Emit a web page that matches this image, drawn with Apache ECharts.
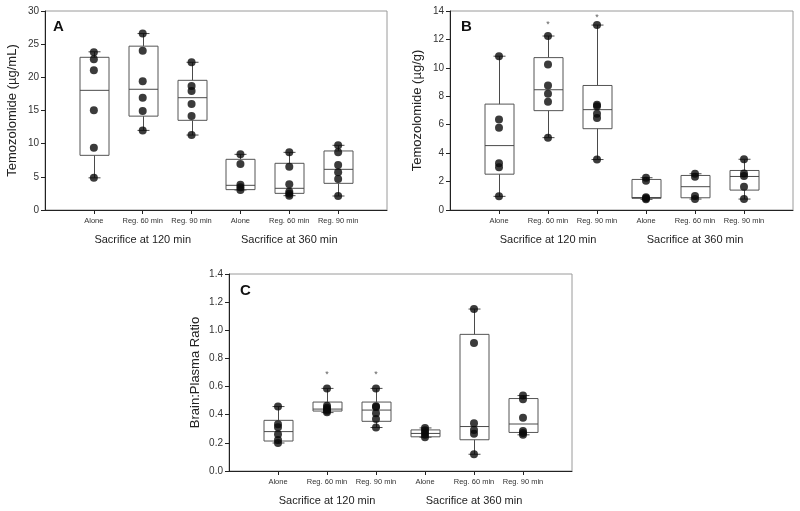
<!DOCTYPE html>
<html>
<head>
<meta charset="utf-8">
<script src="https://cdn.jsdelivr.net/npm/echarts@6/dist/echarts.min.js"></script>
<style>html,body{margin:0;padding:0;background:#fff}#chart{width:800px;height:511px}</style>
</head>
<body>
<div id="chart"></div>
<script>
// ---- data ----
const categories = ['Alone', 'Reg. 60 min', 'Reg. 90 min', 'Alone', 'Reg. 60 min', 'Reg. 90 min'];
const groupLabels = ['Sacrifice at 120 min', 'Sacrifice at 360 min'];
const groupCenterCategory = [2, 5];
const panelLetters = ['A', 'B', 'C'];
const yTitles = ['Temozolomide (\u00b5g/mL)', 'Temozolomide (\u00b5g/g)', 'Brain:Plasma Ratio'];

// box stats: [min, Q1, median, Q3, max]
const plasmaBox = [
  [4.85, 8.24, 18.04, 23.02, 23.85],
  [12.0, 14.15, 18.2, 24.7, 26.6],
  [11.3, 13.52, 16.93, 19.55, 22.27],
  [3.02, 3.07, 3.72, 7.64, 8.39],
  [2.16, 2.51, 3.27, 7.04, 8.69],
  [2.11, 4.02, 6.13, 8.9, 9.75]
];
const plasmaPoints = [
  [23.8, 22.72, 21.06, 15.03, 9.4, 4.85],
  [26.6, 24.02, 19.4, 16.93, 14.93, 12.0],
  [22.27, 18.69, 17.94, 15.98, 14.17, 11.3],
  [8.39, 6.93, 3.8, 3.42, 3.02],
  [8.69, 6.53, 3.87, 2.76, 2.45, 2.16],
  [9.75, 8.69, 6.78, 5.68, 4.67, 2.11]
];
const brainBox = [
  [0.96, 2.52, 4.53, 7.45, 10.82],
  [5.09, 6.99, 8.46, 10.72, 12.24],
  [3.55, 5.72, 7.06, 8.76, 13.01],
  [0.75, 0.82, 0.88, 2.15, 2.27],
  [0.77, 0.86, 1.64, 2.43, 2.55],
  [0.77, 1.40, 2.36, 2.78, 3.57]
];
const brainPoints = [
  [10.82, 6.36, 5.79, 3.29, 3.0, 0.96],
  [12.24, 10.23, 8.76, 8.18, 7.62, 5.09],
  [13.01, 7.40, 7.30, 6.78, 6.47, 3.55],
  [2.27, 2.06, 0.89, 0.82, 0.75],
  [2.55, 2.34, 0.98, 0.77],
  [3.57, 2.57, 2.40, 1.64, 0.77]
];
const ratioBox = [
  [0.199, 0.213, 0.28, 0.36, 0.458],
  [0.415, 0.426, 0.44, 0.49, 0.587],
  [0.309, 0.353, 0.433, 0.49, 0.587],
  [0.24, 0.243, 0.267, 0.292, 0.306],
  [0.119, 0.222, 0.316, 0.971, 1.151],
  [0.257, 0.274, 0.334, 0.515, 0.536]
];
const ratioPoints = [
  [0.458, 0.333, 0.311, 0.262, 0.22, 0.199],
  [0.587, 0.463, 0.45, 0.438, 0.428, 0.418],
  [0.587, 0.46, 0.455, 0.41, 0.37, 0.31],
  [0.306, 0.29, 0.274, 0.257, 0.24],
  [1.151, 0.91, 0.339, 0.292, 0.265, 0.119],
  [0.536, 0.51, 0.379, 0.285, 0.27, 0.257]
];
// significance markers: [category number (1-based), y value]
const brainStars = [[2, 13.03], [3, 13.55]];
const ratioStars = [[2, 0.683], [3, 0.683]];

const yAxisRanges = [[0, 30, 5, 0], [0, 14, 2, 0], [0, 1.4, 0.2, 1]];
// ---- chart ----
const FONT = '"Liberation Sans", Arial, Helvetica, sans-serif';
const grids = [
  {left: 45, top: 11, width: 342, height: 199},
  {left: 450, top: 11, width: 343, height: 199},
  {left: 229, top: 274, width: 343, height: 197}
];
const yNameGaps = [26, 26, 27];
const catPos = categories.map((c, i) => i + 1);

const option = {
  animation: false,
  backgroundColor: '#fff',
  textStyle: {fontFamily: FONT},
  grid: grids.map(g => Object.assign({show: true, borderColor: '#9a9a9a', borderWidth: 1, containLabel: false}, g)),
  xAxis: [],
  yAxis: [],
  series: [],
  graphic: []
};

const boxSets = [plasmaBox, brainBox, ratioBox];
const pointSets = [plasmaPoints, brainPoints, ratioPoints];
const starSets = [[], brainStars, ratioStars];

for (let p = 0; p < 3; p++) {
  const [ymin, ymax, yint, dec] = yAxisRanges[p];
  option.xAxis.push({
    type: 'value', gridIndex: p, min: 0, max: categories.length + 1, position: 'bottom',
    splitLine: {show: false},
    axisLine: {lineStyle: {color: '#222', width: 1}},
    axisTick: {length: 4, lineStyle: {color: '#222'}, customValues: catPos},
    axisLabel: {customValues: catPos, margin: 7, fontSize: 7.5, color: '#333', fontFamily: FONT,
      formatter: v => categories[Math.round(v) - 1] || ''}
  });
  option.xAxis.push({
    type: 'value', gridIndex: p, min: 0, max: categories.length + 1, position: 'bottom',
    splitLine: {show: false}, axisLine: {show: false}, axisTick: {show: false},
    axisLabel: {customValues: groupCenterCategory, margin: 24, fontSize: 11, color: '#222', fontFamily: FONT,
      formatter: v => groupLabels[groupCenterCategory.indexOf(Math.round(v))] || ''}
  });
  option.yAxis.push({
    type: 'value', gridIndex: p, min: ymin, max: ymax, interval: yint,
    name: yTitles[p], nameLocation: 'middle', nameGap: yNameGaps[p],
    nameTextStyle: {fontSize: 13, color: '#222', fontFamily: FONT},
    splitLine: {show: false},
    axisLine: {show: true, lineStyle: {color: '#222', width: 1}},
    axisTick: {show: true, length: 4, lineStyle: {color: '#222'}},
    axisLabel: {margin: 6, fontSize: 10, color: '#333', fontFamily: FONT,
      formatter: v => dec ? v.toFixed(dec) : String(v)}
  });
  const xi = p * 2;
  // boxes
  option.series.push({
    type: 'custom', xAxisIndex: xi, yAxisIndex: p, clip: false, z: 2,
    data: boxSets[p].map((b, i) => [i + 1].concat(b)),
    encode: {x: 0, y: [1, 2, 3, 4, 5]},
    renderItem: function (params, api) {
      const x = api.value(0);
      const pMin = api.coord([x, api.value(1)]);
      const pQ1 = api.coord([x, api.value(2)]);
      const pMed = api.coord([x, api.value(3)]);
      const pQ3 = api.coord([x, api.value(4)]);
      const pMax = api.coord([x, api.value(5)]);
      const hw = 14.5, cw = 6;
      const cx = Math.round(pMed[0]) + 0.5;
      const st = {stroke: '#4a4a4a', lineWidth: 1, fill: null};
      return {
        type: 'group',
        children: [
          {type: 'line', shape: {x1: cx, y1: pQ3[1], x2: cx, y2: pMax[1]}, style: st},
          {type: 'line', shape: {x1: cx, y1: pQ1[1], x2: cx, y2: pMin[1]}, style: st},
          {type: 'line', shape: {x1: cx - cw, y1: pMax[1], x2: cx + cw, y2: pMax[1]}, style: st},
          {type: 'line', shape: {x1: cx - cw, y1: pMin[1], x2: cx + cw, y2: pMin[1]}, style: st},
          {type: 'rect', shape: {x: cx - hw, y: pQ3[1], width: hw * 2, height: pQ1[1] - pQ3[1]},
            style: {stroke: '#555', lineWidth: 1, fill: 'rgba(255,255,255,0)'}},
          {type: 'line', shape: {x1: cx - hw, y1: pMed[1], x2: cx + hw, y2: pMed[1]}, style: st}
        ]
      };
    }
  });
  // points
  const pts = [];
  pointSets[p].forEach((arr, i) => arr.forEach(v => pts.push([i + 1, v])));
  option.series.push({
    type: 'scatter', xAxisIndex: xi, yAxisIndex: p, z: 5,
    symbol: 'circle', symbolSize: 8, itemStyle: {color: '#0a0a0a'},
    data: pts
  });
  if (starSets[p].length) {
    option.series.push({
      type: 'scatter', xAxisIndex: xi, yAxisIndex: p, z: 6,
      symbolSize: 1, itemStyle: {color: 'rgba(0,0,0,0)'},
      label: {show: true, position: 'inside', formatter: '*', fontSize: 9, color: '#333', fontFamily: FONT},
      data: starSets[p]
    });
  }
}

option.graphic = [
  {type: 'text', left: 53, top: 19, style: {text: panelLetters[0], font: 'bold 15px ' + FONT, fill: '#111'}},
  {type: 'text', left: 461, top: 19, style: {text: panelLetters[1], font: 'bold 15px ' + FONT, fill: '#111'}},
  {type: 'text', left: 240, top: 283, style: {text: panelLetters[2], font: 'bold 15px ' + FONT, fill: '#111'}}
];

const chart = echarts.init(document.getElementById('chart'), null, {renderer: 'canvas'});
chart.setOption(option);
</script>
</body>
</html>
